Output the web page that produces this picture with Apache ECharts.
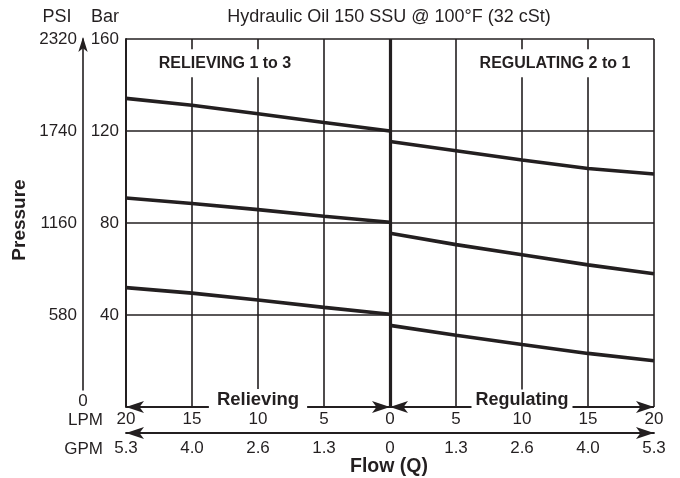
<!DOCTYPE html>
<html><head><meta charset="utf-8">
<script src="https://cdn.jsdelivr.net/npm/echarts@6/dist/echarts.min.js"></script>
<style>html,body{margin:0;padding:0;background:#fff}#c{width:680px;height:478px}</style>
</head><body><div id="c"></div>
<script>
// Flow in LPM (relieving drawn to the left of 0, regulating to the right)
const relieveLpm = [20, 15, 10, 5, 0];
const relieveHigh = [134.2, 131.2, 127.5, 123.7, 120.0];
const relieveMid = [90.9, 88.5, 85.8, 82.9, 80.3];
const relieveLow = [51.9, 49.5, 46.5, 43.3, 40.3];
const regulateLpm = [0, 5, 10, 15, 20];
const regulateHigh = [115.4, 111.4, 107.4, 103.7, 101.3];
const regulateMid = [75.5, 70.6, 66.2, 61.8, 57.9];
const regulateLow = [35.5, 31.2, 27.2, 23.3, 20.1];
// tick labels
const lpmTicks = ['20', '15', '10', '5', '0', '5', '10', '15', '20'];
const gpmTicks = ['5.3', '4.0', '2.6', '1.3', '0', '1.3', '2.6', '4.0', '5.3'];
const barTickValues = [0, 40, 80, 120, 160];
const barTicks = ['', '40', '80', '120', '160'];
const psiTicks = ['', '580', '1160', '1740', '2320'];

const INK = '#231f20';
const FONT = "'Liberation Sans', Arial, Helvetica, sans-serif";
const TICK = 17;
const chart = echarts.init(document.getElementById('c'));

function curve(xs, ys, sign) { return xs.map((q, i) => [sign * q, ys[i]]); }
function lineSeries(data) {
  return { type: 'line', data: data, symbol: 'none', silent: true, clip: false,
    lineStyle: { color: INK, width: 3.6 }, z: 5 };
}
const arrowEnd = { symbol: 'arrow', symbolSize: [9, 18], symbolOffset: [0, 0] };

chart.setOption({
  animation: false,
  backgroundColor: '#fff',
  textStyle: { fontFamily: FONT, color: INK },
  grid: { left: 126, right: 26, top: 39, bottom: 71 },
  xAxis: [
    { type: 'value', min: -20, max: 20, interval: 5, position: 'bottom',
      axisLine: { show: false, onZero: false }, axisTick: { show: false },
      splitLine: { show: true, lineStyle: { color: INK, width: 1.6 } },
      axisLabel: { margin: 4, fontSize: TICK, color: INK, fontFamily: FONT,
        formatter: v => lpmTicks[Math.round((v + 20) / 5)] } },
    { type: 'value', min: -20, max: 20, interval: 5, position: 'bottom', offset: 26,
      axisLine: { show: true, onZero: false, lineStyle: { color: INK, width: 1.8 },
        symbol: ['arrow', 'arrow'], symbolSize: [9, 18], symbolOffset: [0, 0] },
      axisTick: { show: false }, splitLine: { show: false },
      axisLabel: { margin: 7, fontSize: TICK, color: INK, fontFamily: FONT,
        formatter: v => gpmTicks[Math.round((v + 20) / 5)] } }
  ],
  yAxis: [
    { type: 'value', min: 0, max: 160, interval: 40, position: 'left',
      axisLine: { show: true, onZero: false, lineStyle: { color: INK, width: 2 } },
      axisTick: { show: false },
      splitLine: { show: true, lineStyle: { color: INK, width: 1.6 } },
      axisLabel: { margin: 7, fontSize: TICK, color: INK, fontFamily: FONT,
        formatter: v => barTicks[barTickValues.indexOf(v)] } },
    { type: 'value', min: 0, max: 160, interval: 40, position: 'left', offset: 43,
      axisLine: { show: true, onZero: false, lineStyle: { color: INK, width: 1.6 },
        symbol: ['none', 'arrow'], symbolSize: [7, 15], symbolOffset: [0, 2] },
      axisTick: { show: false }, splitLine: { show: false },
      axisLabel: { margin: 6, fontSize: TICK, color: INK, fontFamily: FONT,
        formatter: v => psiTicks[barTickValues.indexOf(v)] } }
  ],
  series: [
    lineSeries(curve(relieveLpm, relieveHigh, -1)),
    lineSeries(curve(relieveLpm, relieveMid, -1)),
    lineSeries(curve(relieveLpm, relieveLow, -1)),
    lineSeries(curve(regulateLpm, regulateHigh, 1)),
    lineSeries(curve(regulateLpm, regulateMid, 1)),
    lineSeries(curve(regulateLpm, regulateLow, 1)),
    { type: 'line', data: [], symbol: 'none', clip: false, silent: true,
      markLine: { silent: true, animation: false, symbol: 'none', label: { show: false },
        lineStyle: { color: INK, width: 3.2, type: 'solid' },
        data: [[{ coord: [0, 0] }, { coord: [0, 160] }]] } },
    { type: 'line', data: [], symbol: 'none', clip: false, silent: true,
      markLine: { silent: true, animation: false, label: { show: false },
        lineStyle: { color: INK, width: 1.8, type: 'solid' },
        data: [
          [Object.assign({ coord: [-20, 0] }, arrowEnd), Object.assign({ coord: [0, 0] }, arrowEnd)],
          [Object.assign({ coord: [0, 0] }, arrowEnd), Object.assign({ coord: [20, 0] }, arrowEnd)]
        ] } }
  ]
});

const px = (x, y) => chart.convertToPixel({ xAxisIndex: 0, yAxisIndex: 0 }, [x, y]);
const pRelTitle = px(-12.5, 149.5), pRegTitle = px(12.5, 149.5);
const pRel = px(-10, 0), pReg = px(10, 0);
const gText = (x, y, text, style) => ({ type: 'text', x: x, y: y, z: 100,
  style: Object.assign({ text: text, fill: INK, font: TICK + 'px ' + FONT, align: 'center', verticalAlign: 'middle' }, style) });

chart.setOption({
  graphic: [
    gText(57, 17, 'PSI', { font: '18px ' + FONT }),
    gText(105, 17, 'Bar', { font: '18px ' + FONT }),
    gText(389, 17, 'Hydraulic Oil 150 SSU @ 100°F (32 cSt)', { font: '18px ' + FONT }),
    { type: 'text', x: 20, y: 220, rotation: Math.PI / 2, z: 100,
      style: { text: 'Pressure', fill: INK, font: 'bold 19px ' + FONT, align: 'center', verticalAlign: 'middle' } },
    gText(pRelTitle[0], pRelTitle[1], 'RELIEVING 1 to 3',
      { font: 'bold 16px ' + FONT, backgroundColor: '#fff', padding: [6, 5, 6, 5] }),
    gText(pRegTitle[0], pRegTitle[1], 'REGULATING 2 to 1',
      { font: 'bold 16px ' + FONT, backgroundColor: '#fff', padding: [6, 5, 6, 5] }),
    gText(pRel[0], pRel[1] - 7, 'Relieving',
      { font: 'bold 18.5px ' + FONT, backgroundColor: '#fff', padding: [3, 8, 0, 8] }),
    gText(pReg[0], pReg[1] - 7, 'Regulating',
      { font: 'bold 18px ' + FONT, backgroundColor: '#fff', padding: [3, 4, 0, 4] }),
    gText(83, 401, '0', { backgroundColor: '#fff', padding: [4, 3, 0, 3] }),
    gText(103, 420, 'LPM', { align: 'right' }),
    gText(103, 449, 'GPM', { align: 'right' }),
    gText(389, 467, 'Flow (Q)', { font: 'bold 19.5px ' + FONT })
  ]
});
</script></body></html>
